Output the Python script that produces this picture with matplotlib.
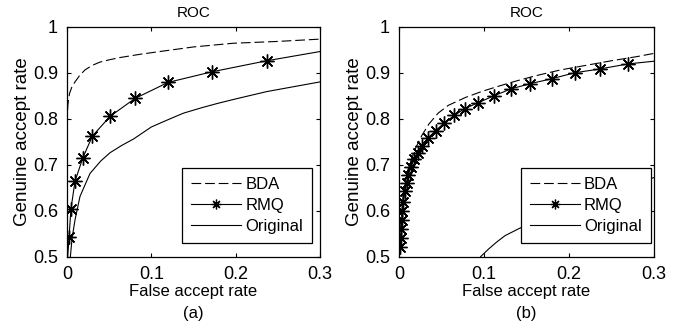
import matplotlib
matplotlib.use("Agg")
import matplotlib.pyplot as plt
from matplotlib.lines import Line2D

plt.rcParams['font.family'] = ['Liberation Sans', 'DejaVu Sans']
plt.rcParams['lines.scale_dashes'] = False

# ---------------- Data: panel (a) ----------------
a_bda_x = [0.0, 0.001, 0.003, 0.006, 0.0095, 0.015, 0.0213, 0.03, 0.039, 0.05, 0.063, 0.0866, 0.11, 0.15, 0.197, 0.25, 0.3]
a_bda_y = [0.79, 0.83, 0.855, 0.87, 0.88, 0.894, 0.906, 0.916, 0.923, 0.928, 0.933, 0.940, 0.946, 0.956, 0.964, 0.968, 0.973]

a_rmq_x = [0.0008, 0.0024, 0.0047, 0.0095, 0.0186, 0.030, 0.051, 0.0806, 0.120, 0.172, 0.237, 0.3]
a_rmq_y = [0.50, 0.542, 0.604, 0.664, 0.714, 0.762, 0.805, 0.844, 0.879, 0.902, 0.926, 0.946]
a_rmq_marked = [1, 2, 3, 4, 5, 6, 7, 8, 9, 10]

a_orig_x = [0.004, 0.006, 0.0095, 0.0154, 0.0273, 0.04, 0.051, 0.065, 0.079, 0.1, 0.12, 0.138, 0.16, 0.178, 0.2, 0.237, 0.27, 0.3]
a_orig_y = [0.50, 0.54, 0.58, 0.631, 0.681, 0.708, 0.726, 0.742, 0.756, 0.782, 0.798, 0.812, 0.824, 0.833, 0.843, 0.859, 0.870, 0.880]

# ---------------- Data: panel (b) ----------------
b_bda_x = [0.0, 0.002, 0.005, 0.01, 0.015, 0.02, 0.027, 0.035, 0.046, 0.058, 0.078, 0.097, 0.116, 0.136, 0.16, 0.19, 0.22, 0.25, 0.28, 0.3]
b_bda_y = [0.50, 0.565, 0.635, 0.685, 0.714, 0.738, 0.764, 0.788, 0.812, 0.829, 0.846, 0.859, 0.870, 0.881, 0.893, 0.906, 0.916, 0.926, 0.935, 0.942]

b_rmq_x = [0.0, 0.0012, 0.0024, 0.0027, 0.0032, 0.0039, 0.0051, 0.0071, 0.0091, 0.0109, 0.0141, 0.018, 0.022, 0.0274,
           0.0345, 0.0432, 0.0533, 0.065, 0.0776, 0.0933, 0.112, 0.132, 0.154, 0.180, 0.207, 0.236, 0.269, 0.3]
b_rmq_y = [0.50, 0.521, 0.541, 0.560, 0.580, 0.600, 0.620, 0.642, 0.660, 0.678, 0.696, 0.712, 0.725, 0.740,
           0.759, 0.774, 0.791, 0.807, 0.822, 0.835, 0.850, 0.865, 0.876, 0.887, 0.900, 0.908, 0.919, 0.925]
b_rmq_marked = list(range(1, 27))

b_orig_x = [0.096, 0.105, 0.115, 0.125, 0.14, 0.16, 0.18, 0.2, 0.22, 0.25, 0.28, 0.3]
b_orig_y = [0.50, 0.516, 0.532, 0.546, 0.560, 0.578, 0.594, 0.608, 0.621, 0.640, 0.660, 0.672]

x_ticks = [0, 0.1, 0.2, 0.3]
x_tick_labels = ['0', '0.1', '0.2', '0.3']
y_ticks = [0.5, 0.6, 0.7, 0.8, 0.9, 1.0]
y_tick_labels = ['0.5', '0.6', '0.7', '0.8', '0.9', '1']
legend_labels = ['BDA', 'RMQ', 'Original']
panel_titles = ['ROC', 'ROC']
panel_captions = ['(a)', '(b)']
xlabel = 'False accept rate'
ylabel = 'Genuine accept rate'

W, H = 692, 329
fig = plt.figure(figsize=(W / 100, H / 100), dpi=100)

def px_axes(x0, x1, y0, y1):
    return fig.add_axes([x0 / W, 1 - y1 / H, (x1 - x0) / W, (y1 - y0) / H])

ax_a = px_axes(67, 320, 26.7, 256.7)
ax_b = px_axes(399, 654, 26.7, 256.7)

star = (8, 2, 0)
dash = (0, (7.0, 2.8))

panels = [
    (ax_a, a_bda_x, a_bda_y, a_rmq_x, a_rmq_y, a_rmq_marked, a_orig_x, a_orig_y, (0.97, 0.06)),
    (ax_b, b_bda_x, b_bda_y, b_rmq_x, b_rmq_y, b_rmq_marked, b_orig_x, b_orig_y, (0.988, 0.06)),
]

for i, (ax, bx, by, rx, ry, rm, ox, oy, anchor) in enumerate(panels):
    ax.plot(bx, by, color='black', lw=0.8, linestyle=dash)
    ax.plot(rx, ry, color='black', lw=0.8, marker=star, markersize=10,
            markeredgewidth=1.0, markevery=rm)
    ax.plot(ox, oy, color='black', lw=0.8)
    ax.set_xlim(0, 0.3)
    ax.set_ylim(0.5, 1.0)
    ax.set_xticks(x_ticks)
    ax.set_xticklabels(x_tick_labels)
    ax.set_yticks(y_ticks)
    ax.set_yticklabels(y_tick_labels)
    ax.tick_params(direction='in', length=3, width=0.8, top=True, right=True,
                   labelsize=13, pad=6.5, colors='black')
    for sp in ax.spines.values():
        sp.set_linewidth(0.9)
        sp.set_color('black')
    ax.set_title(panel_titles[i], fontsize=11, pad=7)
    ax.set_xlabel(xlabel, fontsize=12, labelpad=1)
    ax.set_ylabel(ylabel, fontsize=13.5, labelpad=1)

    handles = [
        Line2D([], [], color='black', lw=0.8, linestyle=dash),
        Line2D([], [], color='black', lw=0.8, marker=star, markersize=7, markeredgewidth=0.9),
        Line2D([], [], color='black', lw=0.8),
    ]
    leg = ax.legend(handles, legend_labels, loc='lower right', bbox_to_anchor=anchor,
                    borderaxespad=0, fancybox=False, edgecolor='black', framealpha=1,
                    fontsize=12, handlelength=3.0, handletextpad=0.25,
                    labelspacing=0.35, borderpad=0.55, numpoints=1)
    leg.get_frame().set_linewidth(0.9)

    cx = (ax.get_position().x0 + ax.get_position().x1) / 2
    fig.text(cx, 1 - 313.5 / H, panel_captions[i], ha='center', va='center', fontsize=12)

fig.savefig('out.png', dpi=100, facecolor='white')
